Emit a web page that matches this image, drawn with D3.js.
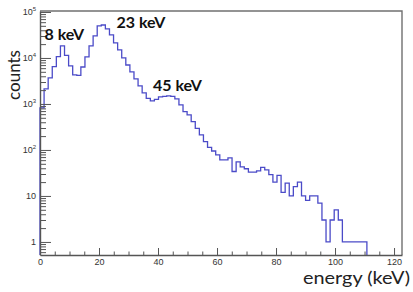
<!DOCTYPE html>
<html>
<head>
<meta charset="utf-8">
<script src="https://cdn.jsdelivr.net/npm/d3@7"></script>
<style>
  body { margin: 0; background: #fff; }
  svg { display: block; }
</style>
</head>
<body>
<svg id="chart"></svg>
<script>
// histogram: counts per bin, bins start at 0 keV
const binWidth = 1.385;
const counts = [
  820, 2120, 3700, 6470, 10670, 18240, 11330, 6700, 4270, 4165,
  6370, 10510, 18240, 30100, 49640, 52150, 42700, 31620, 21200, 14930,
  10000, 7040, 4960, 3495, 2462, 1735, 1318, 1162, 1253, 1420,
  1455, 1492, 1455, 1284, 951, 680, 577, 412, 296, 212,
  151, 114, 95, 78, 61, 61, 67, 34, 55, 43,
  39, 33, 33, 35, 42, 37, 29, 20, 28, 12,
  19, 10, 16, 20, 10, 8, 10, 10, 7, 3,
  1, 3, 5, 3, 1, 1, 1, 1, 1, 1
];
const xTicks = [0, 20, 40, 60, 80, 100, 120];
const yTicks = [1, 10, 100, 1000, 10000, 100000];
const yTickLabels = [['1', ''], ['10', ''], ['10', '2'], ['10', '3'], ['10', '4'], ['10', '5']];
const peakLabels = ['8 keV', '23 keV', '45 keV'];
const xTitle = 'energy (keV)';
const yTitle = 'counts';

const W = 413, H = 292;
const frame = {left: 40, right: 402, top: 11, bottom: 255};

const svg = d3.select('#chart')
    .attr('width', W)
    .attr('height', H);

const x = d3.scaleLinear()
    .domain([0, 122.7])
    .range([frame.left, frame.right]);

const y = d3.scaleLog()
    .domain([0.52, 105000])
    .range([frame.bottom, frame.top]);

/* frame top and right */
svg.append('path')
    .attr('d', 'M' + frame.left + ',' + frame.top + 'H' + frame.right + 'V' + frame.bottom)
    .attr('fill', 'none')
    .attr('stroke', '#707070')
    .attr('stroke-width', 1.4);

/* histogram outline */
const pts = [[x(0), frame.bottom]];
counts.forEach((c, i) => {
    pts.push([x(i * binWidth), y(c)]);
    pts.push([x((i + 1) * binWidth), y(c)]);
});
pts.push([x(counts.length * binWidth), frame.bottom]);

svg.append('path')
    .attr('d', d3.line()(pts))
    .attr('fill', 'none')
    .attr('stroke', '#4b4bc8')
    .attr('stroke-width', 1.3);

/* x axis, ROOT style ticks pointing inside */
const xMinor = d3.range(5, 125, 5).filter(v => xTicks.indexOf(v) < 0);

svg.append('g')
    .attr('transform', 'translate(0,' + frame.bottom + ')')
    .call(d3.axisBottom(x).tickValues(xMinor).tickSize(-3.5).tickSizeOuter(0).tickFormat(''))
    .call(g => g.select('.domain').remove())
    .call(g => g.selectAll('line').attr('stroke', '#555'));

const xAxis = svg.append('g')
    .attr('transform', 'translate(0,' + frame.bottom + ')')
    .call(d3.axisBottom(x).tickValues(xTicks).tickSize(-7).tickSizeOuter(0).tickPadding(4));

xAxis.select('.domain').attr('stroke', '#555').attr('stroke-width', 1.4);
xAxis.selectAll('line').attr('stroke', '#555');
xAxis.selectAll('text')
    .attr('font-family', 'Liberation Sans, Arial, sans-serif')
    .attr('font-size', 9)
    .attr('fill', '#333');

/* y axis */
const yMinor = [];
[-1, 0, 1, 2, 3, 4].forEach(k => {
    for (let m = 2; m <= 9; m++) {
        const v = m * Math.pow(10, k);
        if (v > 0.52 && v < 105000) yMinor.push(v);
    }
});

svg.append('g')
    .attr('transform', 'translate(' + frame.left + ',0)')
    .call(d3.axisLeft(y).tickValues(yMinor).tickSize(-6).tickSizeOuter(0).tickFormat(''))
    .call(g => g.select('.domain').remove())
    .call(g => g.selectAll('line').attr('stroke', '#555'));

const yAxis = svg.append('g')
    .attr('transform', 'translate(' + frame.left + ',0)')
    .call(d3.axisLeft(y).tickValues(yTicks).tickSize(-11).tickSizeOuter(0).tickPadding(4));

yAxis.select('.domain').attr('stroke', '#555').attr('stroke-width', 1.4);
yAxis.selectAll('line').attr('stroke', '#555');
yAxis.selectAll('text')
    .attr('font-family', 'Liberation Sans, Arial, sans-serif')
    .attr('font-size', 9)
    .attr('fill', '#333')
    .each(function(d, i) {
        const t = d3.select(this).text('');
        const lab = yTickLabels[i];
        t.append('tspan').text(lab[0]);
        if (lab[1]) {
            t.append('tspan')
                .attr('font-size', 6)
                .attr('dy', '-0.7em')
                .text(lab[1]);
        }
    });

/* axis titles */
svg.append('text')
    .attr('transform', 'translate(20,75) rotate(-90)')
    .attr('text-anchor', 'middle')
    .attr('font-family', 'Lato, Open Sans, sans-serif')
    .attr('font-size', 17)
    .attr('fill', '#222')
    .text(yTitle);

svg.append('text')
    .attr('x', 303)
    .attr('y', 284)
    .attr('textLength', 107)
    .attr('lengthAdjust', 'spacingAndGlyphs')
    .attr('font-family', 'Lato, Open Sans, sans-serif')
    .attr('font-size', 18)
    .attr('fill', '#222')
    .text(xTitle);

/* peak annotations */
const ann = [[44.5, 40], [116.5, 28], [153, 91]];
svg.append('g')
    .selectAll('text')
    .data(peakLabels)
    .enter().append('text')
    .attr('x', (d, i) => ann[i][0])
    .attr('y', (d, i) => ann[i][1])
    .attr('font-family', 'Lato, Open Sans, sans-serif')
    .attr('font-weight', 'bold')
    .attr('font-size', 16)
    .attr('fill', '#111')
    .text(d => d);
</script>
</body>
</html>
